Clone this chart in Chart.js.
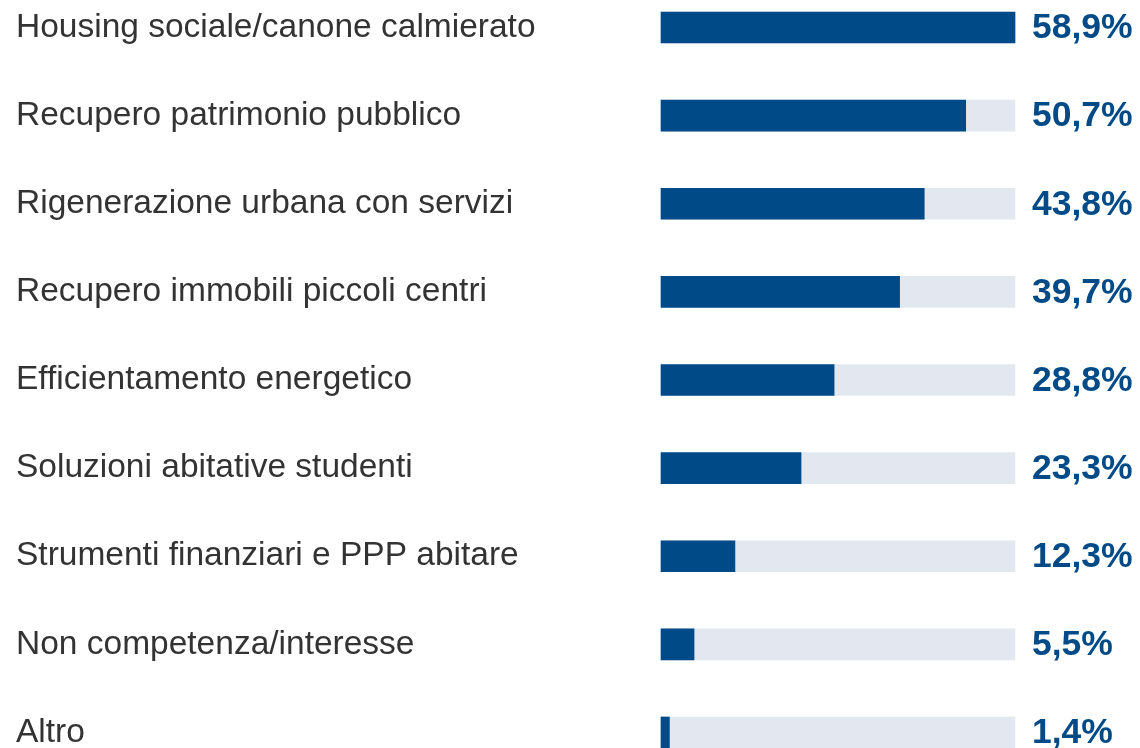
<!DOCTYPE html>
<html>
<head>
<meta charset="utf-8">
<script src="https://cdn.jsdelivr.net/npm/chart.js@4"></script>
<style>
  html, body { margin: 0; padding: 0; background: #fff; }
  #wrap { width: 1140px; height: 748px; }
</style>
</head>
<body>
<div id="wrap"><canvas id="chart"></canvas></div>
<script>
const categories = [
  'Housing sociale/canone calmierato',
  'Recupero patrimonio pubblico',
  'Rigenerazione urbana con servizi',
  'Recupero immobili piccoli centri',
  'Efficientamento energetico',
  'Soluzioni abitative studenti',
  'Strumenti finanziari e PPP abitare',
  'Non competenza/interesse',
  'Altro'
];
const shares = [58.9, 50.7, 43.8, 39.7, 28.8, 23.3, 12.3, 5.5, 1.4];
const scaleMax = 58.9;
const track = categories.map(() => scaleMax);

const BLUE = '#004b87';
const FONT = "'Liberation Sans', Arial, sans-serif";

// percentage labels to the right of each track
const valueLabels = {
  id: 'valueLabels',
  afterDatasetsDraw(chart) {
    const ctx = chart.ctx;
    const meta = chart.getDatasetMeta(1);
    ctx.save();
    ctx.font = 'bold 35.5px ' + FONT;
    ctx.fillStyle = BLUE;
    ctx.textAlign = 'left';
    ctx.textBaseline = 'middle';
    meta.data.forEach((bar, i) => {
      const txt = shares[i].toFixed(1).replace('.', ',') + '%';
      ctx.fillText(txt, chart.chartArea.right + 17, bar.y + 1);
    });
    ctx.restore();
  }
};

new Chart(document.getElementById('chart'), {
  type: 'bar',
  data: {
    labels: categories,
    datasets: [
      {
        data: track,
        backgroundColor: '#e3e8f0',
        barThickness: 31,
        grouped: false,
        order: 2,
        clip: false
      },
      {
        data: shares,
        backgroundColor: BLUE,
        barThickness: 31,
        grouped: false,
        order: 1,
        clip: false
      }
    ]
  },
  options: {
    indexAxis: 'y',
    responsive: true,
    maintainAspectRatio: false,
    animation: false,
    layout: { padding: { left: 16, right: 125, top: 27.5, bottom: 15.5 } },
    plugins: {
      legend: { display: false },
      tooltip: { enabled: false }
    },
    scales: {
      x: {
        display: false,
        min: 0,
        max: scaleMax
      },
      y: {
        offset: false,
        grid: { display: false },
        border: { display: false },
        ticks: {
          crossAlign: 'far',
          color: '#333333',
          font: { family: FONT, size: 33.5, lineHeight: 0.8 },
          padding: 0
        },
        afterFit(scale) { scale.width = 645; }
      }
    }
  },
  plugins: [valueLabels]
});
</script>
</body>
</html>
